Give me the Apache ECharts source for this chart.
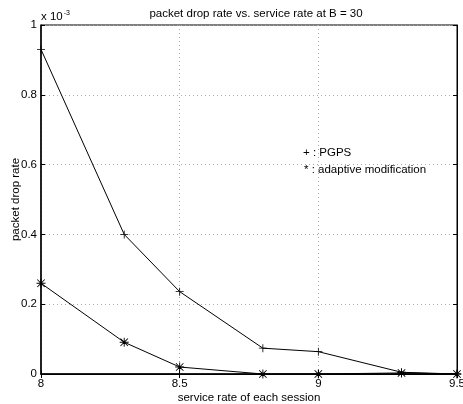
<!DOCTYPE html>
<html>
<head>
<meta charset="utf-8">
<script src="https://cdn.jsdelivr.net/npm/echarts@6/dist/echarts.min.js"></script>
<style>
  html, body { margin: 0; padding: 0; background: #fff; }
  #chart { width: 463px; height: 404px; }
</style>
</head>
<body>
<div id="chart"></div>
<script>
// service rate of each session
const serviceRate = [8, 8.3, 8.5, 8.8, 9, 9.3, 9.5];
// packet drop rate, in units of 1e-3
const pgps = [0.93, 0.40, 0.236, 0.074, 0.064, 0.005, 0];
const adaptive = [0.26, 0.091, 0.02, 0.0, 0.0, 0.003, 0];
const xTicks = [8, 8.5, 9, 9.5];
const yTicks = [0, 0.2, 0.4, 0.6, 0.8, 1];

const font = 'Liberation Sans';
const plusPath = 'path://M4.5,0 L5.5,0 L5.5,4.5 L10,4.5 L10,5.5 L5.5,5.5 L5.5,10 L4.5,10 L4.5,5.5 L0,5.5 L0,4.5 L4.5,4.5 Z';
const starPath = 'path://M4.5,0 L5.5,0 L5.5,4.5 L10,4.5 L10,5.5 L5.5,5.5 L5.5,10 L4.5,10 L4.5,5.5 L0,5.5 L0,4.5 L4.5,4.5 Z ' +
  'M1.2,0.5 L5,4.3 L8.8,0.5 L9.5,1.2 L5.7,5 L9.5,8.8 L8.8,9.5 L5,5.7 L1.2,9.5 L0.5,8.8 L4.3,5 L0.5,1.2 Z';

var dom = document.getElementById('chart');
var myChart = echarts.init(dom, null, { renderer: 'canvas' });

const tickStyle = { show: true, inside: true, length: 4, lineStyle: { color: '#000', width: 1 } };

const option = {
  animation: false,
  backgroundColor: '#fff',
  textStyle: { fontFamily: font, fontSize: 11, color: '#000' },
  title: {
    text: 'packet drop rate vs. service rate at B = 30',
    left: 251, top: 3, textAlign: 'center',
    textStyle: { fontFamily: font, fontSize: 11.5, fontWeight: 'normal', color: '#000' }
  },
  grid: { left: 41, right: 6, top: 25, bottom: 30, outerBoundsMode: 'none', containLabel: false,
    show: true, borderColor: '#000', borderWidth: 1 },
  xAxis: [{
    type: 'value', min: 8, max: 9.5, interval: 0.5,
    name: 'service rate of each session', nameLocation: 'middle', nameGap: 18,
    nameMoveOverlap: false,
    nameTextStyle: { fontFamily: font, fontSize: 11.5, color: '#000' },
    axisLine: { show: true, lineStyle: { color: '#000', width: 1.5 } },
    axisTick: tickStyle,
    axisLabel: { color: '#000', fontFamily: font, fontSize: 11.5, margin: 4,
      formatter: v => xTicks.indexOf(v) >= 0 ? String(v) : '' },
    splitLine: { show: true, lineStyle: { color: '#aaa', type: [1, 3], width: 1 } }
  }, {
    type: 'value', min: 8, max: 9.5, interval: 0.5, position: 'top',
    axisLine: { show: true, lineStyle: { color: '#000', width: 1 } },
    axisTick: tickStyle, axisLabel: { show: false }, splitLine: { show: false }
  }],
  yAxis: [{
    type: 'value', min: 0, max: 1, interval: 0.2,
    name: 'packet drop rate', nameLocation: 'middle', nameGap: 19, nameRotate: 90,
    nameMoveOverlap: false,
    nameTextStyle: { fontFamily: font, fontSize: 11.5, color: '#000' },
    axisLine: { show: true, lineStyle: { color: '#000', width: 1.5 } },
    axisTick: tickStyle,
    axisLabel: { color: '#000', fontFamily: font, fontSize: 11.5, margin: 4,
      formatter: v => {
        const t = yTicks.find(y => Math.abs(y - v) < 1e-9);
        return t === undefined ? '' : String(t);
      } },
    splitLine: { show: true, lineStyle: { color: '#aaa', type: [1, 3], width: 1 } }
  }, {
    type: 'value', min: 0, max: 1, interval: 0.2, position: 'right',
    axisLine: { show: true, lineStyle: { color: '#000', width: 1 } },
    axisTick: tickStyle, axisLabel: { show: false }, splitLine: { show: false }
  }],
  graphic: [
    { type: 'text', left: 41, top: 10,
      style: { text: '{b|x 10}{s|-3}', rich: {
        b: { fontFamily: font, fontSize: 11.5, fill: '#000', verticalAlign: 'bottom' },
        s: { fontFamily: font, fontSize: 7, fill: '#000', verticalAlign: 'top', padding: [0, 0, 6, 1] }
      } } },
    { type: 'text', left: 303, top: 147,
      style: { text: '+ : PGPS', font: '11.5px ' + font, fill: '#000' } },
    { type: 'text', left: 304, top: 164,
      style: { text: '* : adaptive modification', font: '11.5px ' + font, fill: '#000' } }
  ],
  series: [
    {
      name: 'PGPS', type: 'line',
      data: serviceRate.map((x, i) => [x, pgps[i]]),
      symbol: plusPath, symbolSize: 8, showAllSymbol: true,
      lineStyle: { color: '#000', width: 1 },
      itemStyle: { color: '#000' }
    },
    {
      name: 'adaptive modification', type: 'line',
      data: serviceRate.map((x, i) => [x, adaptive[i]]),
      symbol: starPath, symbolSize: 9, showAllSymbol: true,
      lineStyle: { color: '#000', width: 1 },
      itemStyle: { color: '#000' }
    }
  ]
};

myChart.setOption(option);
window.addEventListener('resize', myChart.resize);
</script>
</body>
</html>
